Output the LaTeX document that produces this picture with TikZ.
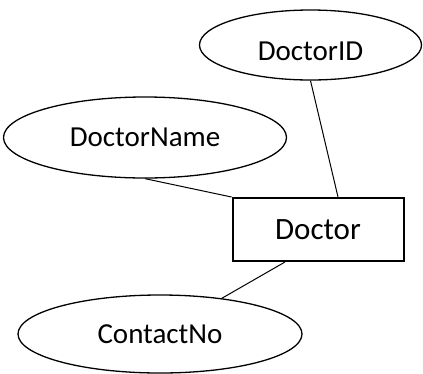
\documentclass[tikz,border=0pt]{standalone}
\usepackage{fontspec}
\setmainfont{Carlito}
\usetikzlibrary{shapes.geometric}
\begin{document}
\begin{tikzpicture}[
			x=1pt,y=-1pt,
			every node/.style={font=\fontsize{29}{35}\selectfont,inner sep=0pt},
			attrib/.style={ellipse,draw,line width=1.3pt},
			entity/.style={rectangle,draw,line width=2pt,minimum width=171pt,minimum height=63pt,font=\fontsize{31}{37}\selectfont},
			link/.style={line width=1pt}
		]
		\useasboundingbox (0,0) rectangle (423,373);
		\node[attrib,minimum width=222pt,minimum height=70pt,text height=31pt] (did) at (310.5,45) {DoctorID};
		\node[attrib,minimum width=283pt,minimum height=81pt] (dname) at (145,137.5) {DoctorName};
		\node[entity] (doc) at (318,229.5) {Doctor};
		\node[attrib,minimum width=284pt,minimum height=78pt] (cno) at (160,334) {ContactNo};
		\draw[link] (did.south) -- ([xshift=20pt]doc.north);
		\draw[link] (dname.south) -- (doc.north west);
		\draw[link] ([xshift=-33pt]doc.south) -- (cno.30);
	\end{tikzpicture}
\end{document}
